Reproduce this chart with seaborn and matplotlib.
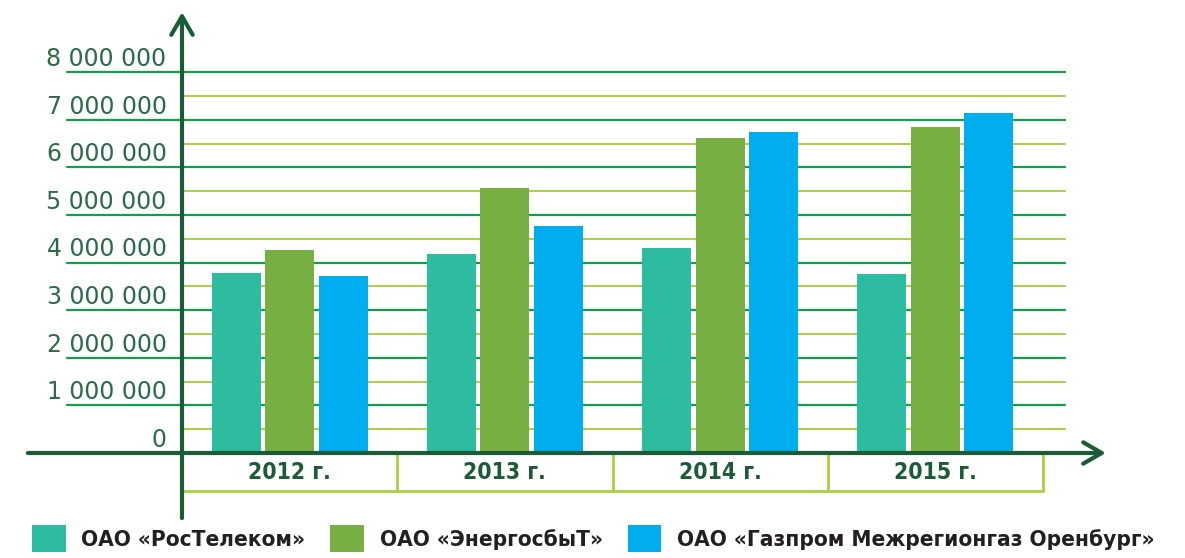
import pandas as pd
import seaborn as sns
import matplotlib.pyplot as plt
import matplotlib.transforms as mtransforms
from matplotlib import font_manager
from matplotlib.patches import Patch

# data
years = ['2012 г.', '2013 г.', '2014 г.', '2015 г.']
companies = ['ОАО «РосТелеком»', 'ОАО «ЭнергосбыТ»', 'ОАО «Газпром Межрегионгаз Оренбург»']
rostelecom = [3780000, 4180000, 4310000, 3760000]
energosbyt = [4260000, 5570000, 6620000, 6850000]
gazprom = [3720000, 4770000, 6740000, 7140000]
y_ticks = [0, 1000000, 2000000, 3000000, 4000000, 5000000, 6000000, 7000000, 8000000]
y_half = [500000, 1500000, 2500000, 3500000, 4500000, 5500000, 6500000, 7500000]

colors = ['#2DBC9F', '#78AF43', '#00AEEF']
dark = '#1A5C38'
grid_dark = '#0FA04C'
grid_light = '#A9D03F'
label_col = '#2B6A4B'

df = pd.DataFrame({
    'year': years * 3,
    'company': [companies[0]] * 4 + [companies[1]] * 4 + [companies[2]] * 4,
    'value': rostelecom + energosbyt + gazprom,
})

# look for a narrow/condensed face, like the original
cond = None
for f in font_manager.fontManager.ttflist:
    if f.stretch in ('condensed', 'semi-condensed', 'extra-condensed') or 'Narrow' in f.name:
        cond = (f.name, f.stretch)
        if 'Narrow' in f.name or f.name.startswith('DejaVu'):
            break
if cond:
    leg_font = dict(family=cond[0], stretch=cond[1], weight='bold', size=16.2)
    cat_font = dict(family=cond[0], stretch=cond[1], weight='bold', size=16.5)
else:
    leg_font = dict(family='Roboto', weight='bold', size=14)
    cat_font = dict(family='DejaVu Sans', weight='bold', size=15)

sns.set_style('white')
plt.rcParams['font.family'] = ['DejaVu Sans']

fig = plt.figure(figsize=(11.85, 5.58), dpi=100)
ax = fig.add_axes([182 / 1185, 1 - 453 / 558, 861 / 1185, 428.4 / 558])
ax.patch.set_alpha(0)

sns.barplot(data=df, x='year', y='value', hue='company', palette=colors,
            width=0.745, gap=0.085, edgecolor='none', saturation=1,
            legend=False, ax=ax, zorder=3)

ax.set_xlim(-0.5, 3.5)
ax.set_ylim(0, 9000000)
ax.set_xticks([])
ax.set_yticks([])
ax.set_xlabel('')
ax.set_ylabel('')
for s in ax.spines.values():
    s.set_visible(False)

trans = mtransforms.blended_transform_factory(ax.transAxes, ax.transData)

# grid lines
for v in y_ticks[1:]:
    ax.plot([-0.134, 1.026], [v, v], transform=trans, color=grid_dark,
            lw=1.6, clip_on=False, zorder=1)
for v in y_half:
    ax.plot([0, 1.026], [v, v], transform=trans, color=grid_light,
            lw=1.4, clip_on=False, zorder=1)

# tick labels sitting above the lines
for v in y_ticks:
    lab = f'{v:,}'.replace(',', ' ')
    ax.annotate(lab, xy=(-0.018, v), xycoords=trans, xytext=(0, 4.5),
                textcoords='offset points', ha='right', va='baseline',
                fontsize=17, color=label_col)

# category boxes under the x axis
ax.plot([0, 1], [-0.0887, -0.0887], transform=ax.transAxes, color=grid_light,
        lw=2, clip_on=False, zorder=1)
for k in range(1, 5):
    ax.plot([k / 4, k / 4], [0, -0.0887], transform=ax.transAxes,
            color=grid_light, lw=2, clip_on=False, zorder=1)
for i, y in enumerate(years):
    ax.text((i + 0.5) / 4, -0.046, y, transform=ax.transAxes, ha='center',
            va='center', color=dark, **cat_font)

# axes with arrows
arrow = dict(arrowstyle='->,head_length=0.95,head_width=0.55', lw=3,
             color=dark, shrinkA=0, shrinkB=0, mutation_scale=14)
ax.annotate('', xy=(0, 1.029), xytext=(0, -0.152), xycoords='axes fraction',
            arrowprops=arrow, zorder=5, annotation_clip=False)
ax.annotate('', xy=(1.073, 0), xytext=(-0.179, 0), xycoords='axes fraction',
            arrowprops=arrow, zorder=5, annotation_clip=False)

# legend
handles = [Patch(facecolor=c, edgecolor='none') for c in colors]
leg = fig.legend(handles, companies, loc='upper left',
                 bbox_to_anchor=(32 / 1185, 1 - 525 / 558), ncol=3,
                 frameon=False, prop=leg_font, handlelength=1.5,
                 handleheight=1.5, handletextpad=0.7, columnspacing=1.1,
                 borderpad=0, borderaxespad=0)
for t in leg.get_texts():
    t.set_color('#231F20')

fig.savefig('out.png', dpi=100)
